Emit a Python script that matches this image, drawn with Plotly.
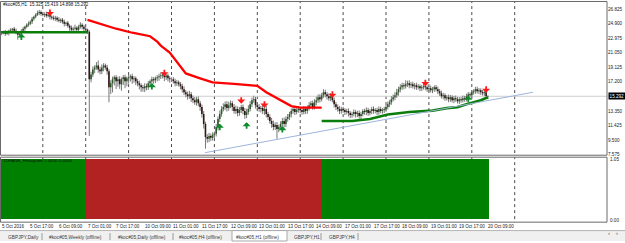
import plotly.graph_objects as go

W, H = 625, 243

# ---------------- data (H1 bars, bar index 0 = 5 Oct 01:00) ----------------
closes_5oct = [23.68, 23.81, 23.55, 23.68, 23.94, 24.07, 24.21, 23.94, 23.68, 23.42, 23.55, 23.94,
               24.21, 24.47, 24.73, 24.86, 25.12, 25.52, 25.78, 26.04, 26.30, 26.43, 26.17]
closes_6oct = [26.04, 26.17, 25.91, 26.04, 25.78, 25.65, 25.52, 25.65, 25.38, 25.25, 25.38, 25.12,
               24.86, 24.99, 24.60, 24.34, 24.07, 24.21, 24.34, 24.07, 24.47, 24.73, 24.47, 24.21]
closes_7oct = [24.07, 23.81, 17.53, 18.18, 18.84, 19.10, 19.36, 18.84, 18.58, 19.10, 19.36, 19.10,
               18.58, 16.48, 17.00, 17.53, 17.79, 17.26, 17.53, 16.87, 17.53, 17.79, 17.26, 17.66]
closes_10oct = [17.79, 17.92, 17.53, 17.66, 17.26, 17.00, 16.74, 16.48, 16.35, 16.61, 16.48, 17.00,
                17.26, 17.53, 17.40, 17.66, 17.79, 17.92, 18.05, 18.18, 17.79, 18.05, 17.66, 17.53]
closes_11oct = [17.53, 17.26, 17.00, 17.13, 16.87, 16.61, 16.22, 15.82, 15.56, 15.30, 15.56, 15.04,
                14.78, 14.51, 14.91, 14.38, 13.86, 12.94, 11.63, 9.93, 9.67, 10.06, 9.80, 10.19]
closes_12oct = [10.33, 11.24, 12.29, 12.94, 13.60, 13.86, 14.25, 13.73, 14.12, 14.38, 13.86, 13.34,
                13.60, 13.07, 13.47, 13.86, 13.34, 12.81, 13.21, 13.60, 14.25, 14.78, 14.91, 14.12]
closes_13oct = [13.86, 13.60, 13.73, 13.34, 13.60, 12.94, 12.55, 12.03, 11.63, 11.24, 11.50, 10.98,
                11.24, 11.63, 12.03, 11.63, 12.29, 12.55, 12.94, 13.34, 13.60, 13.21, 13.47, 13.60]
closes_14oct = [13.47, 13.21, 13.60, 13.34, 13.73, 14.12, 14.38, 13.86, 14.51, 14.78, 15.17, 14.91,
                15.43, 15.82, 15.56, 15.30, 15.04, 15.30, 14.78, 14.25, 13.86, 13.60, 13.34, 13.60]
closes_17oct = [13.47, 13.21, 13.34, 13.07, 12.81, 12.94, 13.21, 12.94, 13.07, 12.68, 12.94, 13.34,
                13.21, 13.47, 13.07, 13.34, 13.60, 13.34, 13.47, 13.21, 13.60, 13.34, 13.47, 13.60]
closes_18oct = [13.86, 14.25, 14.51, 14.91, 15.17, 15.43, 15.82, 16.22, 16.48, 16.74, 16.61, 16.87,
                17.00, 16.74, 16.87, 16.61, 16.74, 16.48, 16.61, 16.35, 16.48, 16.61, 16.48, 16.22]
closes_19oct = [16.35, 16.09, 16.22, 16.48, 16.22, 15.96, 15.69, 15.30, 15.43, 15.04, 15.17, 14.91,
                15.17, 14.78, 15.04, 14.91, 14.65, 14.91, 14.78, 15.04, 14.91, 15.30, 15.56, 15.43]
closes_20oct = [15.82, 15.96, 16.22, 15.96, 16.09, 15.82, 15.69, 15.82, 15.325, 15.292]

upper_wick = [
    0.20, 0.15, 0.25, 0.30, 0.15, 0.20, 0.10, 0.25, 0.30, 0.20, 0.15, 0.20, 0.25, 0.15, 0.20, 0.30, 0.20, 0.25, 0.15, 0.20, 0.30, 0.26, 0.20,
    0.25, 0.20, 0.30, 0.15, 0.25, 0.20, 0.30, 0.25, 0.20, 0.35, 0.20, 0.25, 0.30, 0.15, 0.25, 0.20, 0.30, 0.25, 0.40, 0.20, 0.25, 0.35, 0.20, 0.25,
    0.20, 0.15, 0.20, 0.35, 0.40, 0.30, 0.45, 0.66, 0.35, 0.40, 0.30, 0.25, 0.35, 0.30, 0.40, 0.35, 0.25, 0.30, 0.35, 0.40, 0.25, 0.30, 0.35, 0.25,
    0.30, 0.25, 0.35, 0.30, 0.25, 0.30, 0.35, 0.25, 0.30, 0.40, 0.35, 0.30, 0.25, 0.35, 0.30, 0.25, 0.30, 0.35, 0.40, 0.30, 0.35, 0.30, 0.25, 0.30,
    0.25, 0.30, 0.35, 0.30, 0.25, 0.30, 0.35, 0.40, 0.30, 0.35, 0.45, 0.30, 0.35, 0.40, 0.30, 0.35, 0.30, 0.35, 0.40, 0.30, 0.35, 0.40, 0.30, 0.35,
    0.30, 0.40, 0.35, 0.45, 0.40, 0.50, 0.35, 0.40, 0.45, 0.35, 0.30, 0.40, 0.45, 0.35, 0.40, 0.30, 0.35, 0.40, 0.45, 0.50, 0.40, 0.35, 0.45, 0.30,
    0.35, 0.40, 0.30, 0.45, 0.35, 0.40, 0.30, 0.35, 0.40, 0.45, 0.35, 0.40, 0.30, 0.35, 0.40, 0.45, 0.35, 0.40, 0.30, 0.35, 0.40, 0.30, 0.35, 0.40,
    0.30, 0.35, 0.40, 0.30, 0.35, 0.40, 0.30, 0.35, 0.40, 0.45, 0.35, 0.40, 0.30, 0.40, 0.35, 0.30, 0.35, 0.40, 0.30, 0.35, 0.30, 0.35, 0.40, 0.30,
    0.30, 0.25, 0.30, 0.35, 0.25, 0.30, 0.35, 0.25, 0.30, 0.35, 0.30, 0.25, 0.30, 0.35, 0.30, 0.25, 0.30, 0.35, 0.25, 0.30, 0.35, 0.30, 0.25, 0.30,
    0.30, 0.35, 0.30, 0.40, 0.35, 0.40, 0.45, 0.35, 0.40, 0.35, 0.30, 0.53, 0.35, 0.40, 0.30, 0.35, 0.30, 0.35, 0.30, 0.25, 0.30, 0.35, 0.30, 0.25,
    0.30, 0.35, 0.30, 0.25, 0.30, 0.35, 0.30, 0.35, 0.30, 0.25, 0.30, 0.35, 0.30, 0.25, 0.30, 0.35, 0.30, 0.25, 0.30, 0.35, 0.30, 0.35, 0.30, 0.25,
    0.30, 0.25, 0.30, 0.35, 0.30, 0.25, 0.30, 0.35, 0.30, 0.094,
]
lower_wick = [
    0.25, 0.20, 0.30, 0.15, 0.35, 0.20, 0.25, 0.30, 0.20, 0.66, 0.25, 0.20, 0.15, 0.30, 0.20, 0.25, 0.20, 0.30, 0.25, 0.20, 0.15, 0.30, 0.25,
    0.20, 0.30, 0.25, 0.20, 0.35, 0.25, 0.20, 0.30, 0.25, 0.20, 0.30, 0.25, 0.35, 0.30, 0.25, 0.40, 0.35, 0.30, 0.25, 0.45, 0.30, 0.25, 0.35, 0.30,
    0.25, 0.30, 7.47, 0.40, 0.35, 0.50, 0.30, 0.45, 0.40, 0.35, 0.50, 0.30, 0.45, 1.97, 0.90, 1.20, 0.80, 1.00, 0.70, 0.60, 0.85, 0.75, 0.90, 0.65,
    0.70, 0.55, 0.60, 0.45, 0.50, 0.40, 0.55, 0.60, 0.45, 0.50, 0.40, 0.35, 0.40, 0.30, 0.45, 0.35, 0.40, 0.45, 0.35, 0.40, 0.50, 0.35, 0.40, 0.45,
    0.35, 0.30, 0.40, 0.35, 0.30, 0.40, 0.45, 0.35, 0.40, 0.45, 0.35, 0.50, 0.40, 0.35, 0.45, 0.40, 0.50, 0.45, 0.60, 1.57, 0.50, 0.45, 0.40, 0.35,
    0.40, 0.35, 0.45, 0.40, 0.35, 0.30, 0.40, 0.45, 0.35, 0.40, 0.50, 0.35, 0.40, 0.45, 0.35, 0.40, 0.45, 0.50, 0.40, 0.35, 0.30, 0.40, 0.35, 0.45,
    0.40, 0.35, 0.45, 0.40, 0.50, 0.45, 0.40, 0.35, 0.50, 0.45, 0.40, 1.31, 0.45, 0.40, 0.35, 0.45, 0.40, 0.35, 0.40, 0.45, 0.35, 0.40, 0.30, 0.35,
    0.40, 0.35, 0.30, 0.40, 0.35, 0.30, 0.40, 0.35, 0.30, 0.40, 0.35, 0.45, 0.30, 0.35, 0.40, 0.45, 0.35, 0.40, 0.30, 0.45, 0.40, 0.35, 0.40, 0.35,
    0.35, 0.40, 0.30, 0.45, 0.40, 0.35, 0.30, 0.45, 0.40, 0.35, 0.45, 0.30, 0.35, 0.40, 0.35, 0.30, 0.40, 0.35, 0.30, 0.40, 0.35, 0.30, 0.35, 0.40,
    0.35, 0.30, 0.40, 0.35, 0.30, 0.40, 0.35, 0.45, 0.40, 0.35, 0.40, 0.30, 0.35, 0.40, 0.35, 0.30, 0.40, 0.35, 0.30, 0.40, 0.35, 0.30, 0.40, 0.35,
    0.35, 0.30, 0.40, 0.35, 0.30, 0.40, 0.35, 0.30, 0.40, 0.35, 0.30, 0.40, 0.35, 0.30, 0.40, 0.35, 0.30, 0.40, 0.35, 0.30, 0.35, 0.30, 0.35, 0.30,
    0.35, 0.30, 0.35, 0.30, 0.40, 0.35, 0.30, 0.35, 0.40, 0.394,
]

first_open = 23.60

# moving averages / indicator lines (bar index, price)
green_ma_a_x = [-1, 48]
green_ma_a_y = [23.75, 23.75]
red_ma_x = [48, 55, 64, 73, 83, 87, 89, 94, 100, 103, 111, 118, 130, 143, 148, 156, 162, 167, 179]
red_ma_y = [25.38, 24.86, 24.21, 23.68, 23.22, 22.50, 21.98, 21.06, 19.30, 18.31, 17.66, 17.13,
            16.94, 16.67, 15.82, 14.71, 13.99, 13.79, 13.79]
green_ma_b_x = [179, 196, 206, 216, 228, 241, 249, 255, 260, 263, 268, 272]
green_ma_b_y = [12.03, 12.03, 12.29, 12.88, 13.21, 13.40, 13.73, 13.86, 14.25, 14.45, 14.78, 15.17]

trend_x = [113.7, 297.2]
trend_y = [7.84, 15.82]

sell_arrow_x = [27, 91, 134, 147, 185, 237, 271]
sell_arrow_y = [25.88, 17.94, 14.32, 13.79, 15.10, 16.63, 15.76]
buy_arrow_x = [11, 84, 122, 137, 157, 261]
buy_arrow_y = [23.58, 17.03, 11.66, 11.87, 11.35, 15.37]

hist_runs = [(48, 1.0, "up"), (132, 1.0, "down"), (93, 1.0, "up")]

current_price = 15.292
price_ticks = [26.825, 24.900, 22.975, 21.050, 19.125, 17.200, 13.350, 11.425, 9.500, 7.575]
day_starts = [23, 47, 71, 95, 119, 143, 167, 191, 215, 239, 263, 287]
time_label_bars = [0, 16, 32, 48, 64, 80, 96, 112, 128, 144, 160, 176, 192, 208, 224, 240, 256, 272]
time_labels = ["5 Oct 2016", "5 Oct 17:00", "6 Oct 09:00", "7 Oct 01:00", "7 Oct 17:00",
               "10 Oct 09:00", "11 Oct 01:00", "11 Oct 17:00", "12 Oct 09:00", "13 Oct 01:00",
               "13 Oct 17:00", "14 Oct 09:00", "17 Oct 01:00", "17 Oct 17:00", "18 Oct 09:00",
               "19 Oct 01:00", "19 Oct 17:00", "20 Oct 09:00"]
tab_labels = ["GBPJPY,Daily", "#koc#05,Weekly (offline)", "#koc#05,Daily (offline)",
              "#koc#05,H4 (offline)", "#koc#05,H1 (offline)", "GBPJPY,H1", "GBPJPY,H4"]
title_text = "#koc#05,H1  15.325 15.419 14.898 15.292"
indicator_text = "TDFANE_Histogram 1.0000 0.0000"

# ---------------- build ----------------
closes = (closes_5oct + closes_6oct + closes_7oct + closes_10oct + closes_11oct + closes_12oct +
          closes_13oct + closes_14oct + closes_17oct + closes_18oct + closes_19oct + closes_20oct)
n = len(closes)
assert n == 273 and len(upper_wick) == n and len(lower_wick) == n, (n, len(upper_wick), len(lower_wick))
opens = [first_open] + closes[:-1]
highs = [max(o, c) + u for o, c, u in zip(opens, closes, upper_wick)]
lows = [min(o, c) - l for o, c, l in zip(opens, closes, lower_wick)]

FONT = "Liberation Sans"
def px_x(p): return p / W
def px_y(p): return 1 - p / H

X0, X1 = -0.951, 338.63          # bar-index range of the plot width
MAIN_TOP, MAIN_BOT = 1.5, 156.5
IND_TOP, IND_BOT = 158.5, 224.0
PLOT_R = 607.0

fig = go.Figure()

wx, wy, ux, uy, dx, dy = [], [], [], [], [], []
for i, (o, h, l, c) in enumerate(zip(opens, highs, lows, closes)):
    wx += [i, i, None]; wy += [l, h, None]
    if c >= o:
        ux += [i, i, None]; uy += [o, c, None]
    else:
        dx += [i, i, None]; dy += [o, c, None]

fig.add_trace(go.Scatter(x=wx, y=wy, mode="lines", line=dict(color="#777777", width=1),
                         hoverinfo="skip", showlegend=False))
fig.add_trace(go.Scatter(x=ux, y=uy, mode="lines", line=dict(color="#2a5a25", width=1.6),
                         hoverinfo="skip", showlegend=False))
fig.add_trace(go.Scatter(x=dx, y=dy, mode="lines", line=dict(color="#301616", width=1.6),
                         hoverinfo="skip", showlegend=False))

fig.add_trace(go.Scatter(x=green_ma_a_x, y=green_ma_a_y, mode="lines",
                         line=dict(color="#0b7d0b", width=2.6), showlegend=False))
fig.add_trace(go.Scatter(x=red_ma_x, y=red_ma_y, mode="lines",
                         line=dict(color="#ff0000", width=2.3), showlegend=False))
fig.add_trace(go.Scatter(x=green_ma_b_x, y=green_ma_b_y, mode="lines",
                         line=dict(color="#0b7d0b", width=2.6), showlegend=False))
fig.add_trace(go.Scatter(x=trend_x, y=trend_y, mode="lines",
                         line=dict(color="#9db4dc", width=1), showlegend=False))

# histogram panel
hx, hy, hc = [], [], []
idx = 0
for count, val, state in hist_runs:
    for _ in range(count):
        hx.append(idx); hy.append(val)
        hc.append("#008000" if state == "up" else "#b22222")
        idx += 1
fig.add_trace(go.Bar(x=hx, y=hy, marker=dict(color=hc, line=dict(width=0)), width=1.0,
                     xaxis="x2", yaxis="y2", showlegend=False, hoverinfo="skip"))

annotations = []
for x, y in zip(sell_arrow_x, sell_arrow_y):
    annotations.append(dict(x=x, y=y, xref="x", yref="y", text="", showarrow=True, ax=0, ay=-8,
                            arrowhead=1, arrowsize=0.75, arrowwidth=1.8, arrowcolor="#ff1a1a", standoff=0))
for x, y in zip(buy_arrow_x, buy_arrow_y):
    annotations.append(dict(x=x, y=y, xref="x", yref="y", text="", showarrow=True, ax=0, ay=8,
                            arrowhead=1, arrowsize=0.75, arrowwidth=1.8, arrowcolor="#0d8a2a", standoff=0))

for b, t in zip(time_label_bars, time_labels):
    annotations.append(dict(x=b, y=px_y(228.5), xref="x", yref="paper", text=t, showarrow=False,
                            xanchor="left", yanchor="middle", borderpad=0, xshift=-1,
                            font=dict(family=FONT, size=4.5, color="#222222")))

annotations.append(dict(x=px_x(2), y=px_y(4.5), xref="paper", yref="paper", text=title_text,
                        showarrow=False, xanchor="left", yanchor="middle", borderpad=0,
                        font=dict(family=FONT, size=4.5, color="#111111")))
annotations.append(dict(x=px_x(2), y=px_y(162), xref="paper", yref="paper", text=indicator_text,
                        showarrow=False, xanchor="left", yanchor="middle", borderpad=0,
                        font=dict(family=FONT, size=4.4, color="#111111")))
annotations.append(dict(x=px_x(PLOT_R + 1), y=current_price, xref="paper", yref="y",
                        text=f"{current_price:.3f}", showarrow=False, xanchor="left", yanchor="middle",
                        bgcolor="#000000", borderpad=0.6,
                        font=dict(family=FONT, size=4.6, color="#ffffff")))
for label, py in [("1.05", 161.0), ("0.00", 222.0)]:
    annotations.append(dict(x=px_x(PLOT_R + 2), y=px_y(py), xref="paper", yref="paper", text=label,
                            showarrow=False, xanchor="left", yanchor="middle", borderpad=0,
                            font=dict(family=FONT, size=4.6, color="#222222")))

# tab bar
tab_x = [7, 48, 117, 178, 235, 293, 328]
for tx, t in zip(tab_x, tab_labels):
    annotations.append(dict(x=px_x(tx), y=px_y(239.5), xref="paper", yref="paper", text=t,
                            showarrow=False, xanchor="left", yanchor="middle", borderpad=0,
                            font=dict(family=FONT, size=4.8, color="#3a3a3a")))
annotations.append(dict(x=px_x(612), y=px_y(240), xref="paper", yref="paper", text="\u2039",
                        showarrow=False, font=dict(family=FONT, size=6, color="#555")))
annotations.append(dict(x=px_x(620), y=px_y(240), xref="paper", yref="paper", text="\u203a",
                        showarrow=False, font=dict(family=FONT, size=6, color="#555")))

shapes = []
for d in day_starts:
    shapes.append(dict(type="line", xref="x", yref="y", x0=d, x1=d, y0=7.0, y1=28.5, layer="below",
                       line=dict(color="#4a4a4a", width=1, dash="dot")))
    shapes.append(dict(type="line", xref="x2", yref="y2", x0=d, x1=d, y0=-0.1, y1=1.1, layer="below",
                       line=dict(color="#4a4a4a", width=1, dash="dot")))
shapes.append(dict(type="line", xref="x", yref="y", x0=X0, x1=X1, y0=current_price, y1=current_price,
                   layer="below", line=dict(color="#cfcfcf", width=1)))
for top, bot in [(MAIN_TOP, MAIN_BOT), (IND_TOP, IND_BOT)]:
    shapes.append(dict(type="rect", xref="paper", yref="paper", x0=px_x(0.5), x1=px_x(PLOT_R),
                       y0=px_y(bot), y1=px_y(top), layer="above",
                       line=dict(color="#6a6a6a", width=1), fillcolor="rgba(0,0,0,0)"))
shapes.append(dict(type="rect", xref="paper", yref="paper", x0=0, x1=1, y0=0, y1=px_y(232.5),
                   layer="above", line=dict(width=0), fillcolor="#f0f0f0"))
shapes.append(dict(type="line", xref="paper", yref="paper", x0=0, x1=1, y0=px_y(232.5), y1=px_y(232.5),
                   layer="above", line=dict(color="#b4b4b4", width=1)))
shapes.append(dict(type="rect", xref="paper", yref="paper", x0=px_x(232), x1=px_x(287),
                   y0=0, y1=px_y(232.5), layer="above",
                   line=dict(color="#a8a8a8", width=1), fillcolor="#ffffff"))
for sx in [42, 110, 173, 321, 358]:
    shapes.append(dict(type="line", xref="paper", yref="paper", x0=px_x(sx), x1=px_x(sx),
                       y0=px_y(242), y1=px_y(235), layer="above",
                       line=dict(color="#9a9a9a", width=1)))

fig.update_layout(
    width=W, height=H, margin=dict(l=0, r=0, t=0, b=0, pad=0), autosize=False,
    paper_bgcolor="#ffffff", plot_bgcolor="rgba(0,0,0,0)", showlegend=False,
    bargap=0, hovermode=False,
    xaxis=dict(domain=[0, px_x(PLOT_R)], range=[X0, X1], visible=False, anchor="y", fixedrange=True),
    yaxis=dict(domain=[px_y(MAIN_BOT), px_y(MAIN_TOP)], range=[26.825 - (MAIN_BOT - 9) / 7.636,
                                                                   26.825 + (9 - MAIN_TOP) / 7.636],
               side="right", anchor="x", showgrid=False, zeroline=False, showline=False,
               tickmode="array", tickvals=price_ticks, ticktext=[f"{v:.3f}" for v in price_ticks],
               ticks="", tickfont=dict(family=FONT, size=4.6, color="#222222"), fixedrange=True),
    xaxis2=dict(domain=[0, px_x(PLOT_R)], range=[X0, X1], visible=False, anchor="y2", matches="x"),
    yaxis2=dict(domain=[px_y(IND_BOT), px_y(IND_TOP)], range=[-0.05, 1.0417], visible=False, anchor="x2"),
    annotations=annotations, shapes=shapes,
)

fig.write_html("out.html")
